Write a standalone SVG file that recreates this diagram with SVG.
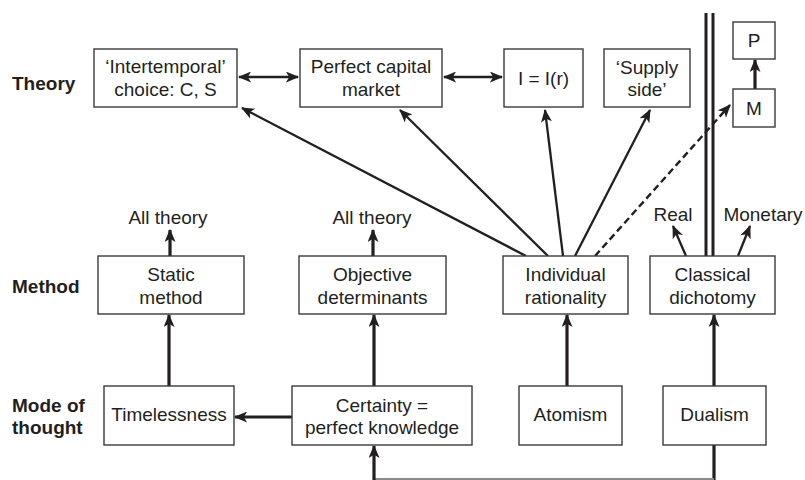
<svg xmlns="http://www.w3.org/2000/svg" width="805" height="480" viewBox="0 0 805 480">
<defs>
<marker id="ah" viewBox="0 0 12 10" refX="11" refY="5" markerWidth="14" markerHeight="11" markerUnits="userSpaceOnUse" orient="auto-start-reverse">
<path d="M0,0 L12,5 L0,10 L3,5 z" fill="#231f20"/>
</marker>
<marker id="ahs" viewBox="0 0 12 10" refX="11" refY="5" markerWidth="15" markerHeight="11" markerUnits="userSpaceOnUse" orient="auto-start-reverse">
<path d="M0,0 L12,5 L0,10 L3,5 z" fill="#231f20"/>
</marker>
</defs>
<style>
text{font-family:"Liberation Sans",Arial,sans-serif;font-size:19px;fill:#231f20;text-anchor:middle}
.lbl{font-weight:bold;text-anchor:start}
rect{fill:#fff;stroke:#3a3a3a;stroke-width:1.4}
.thick{stroke:#231f20;stroke-width:3.2;fill:none}
.thin{stroke:#231f20;stroke-width:2.3;fill:none}
.dash{stroke:#231f20;stroke-width:2.4;fill:none;stroke-dasharray:7 4}
</style>
<rect x="0" y="0" width="805" height="480" style="fill:#fff;stroke:none"/>

<g id="row-labels">
<text class="lbl" x="12" y="90">Theory</text>
<text class="lbl" x="12" y="293">Method</text>
<text class="lbl" x="12" y="412">Mode of</text>
<text class="lbl" x="12" y="434">thought</text>
</g>

<g id="connectors">
<line class="thin" x1="239" y1="77" x2="298" y2="77" marker-start="url(#ah)" marker-end="url(#ah)"/>
<line class="thin" x1="444" y1="77" x2="502" y2="77" marker-start="url(#ah)" marker-end="url(#ah)"/>
<line class="thin" x1="526" y1="256" x2="242" y2="108" marker-end="url(#ahs)"/>
<line class="thin" x1="548" y1="256" x2="400" y2="110" marker-end="url(#ahs)"/>
<line class="thin" x1="563" y1="256" x2="545" y2="110" marker-end="url(#ahs)"/>
<line class="thin" x1="575" y1="256" x2="650" y2="110" marker-end="url(#ahs)"/>
<line x1="706" y1="13" x2="706" y2="256" stroke="#231f20" stroke-width="3"/>
<line x1="713" y1="13" x2="713" y2="256" stroke="#231f20" stroke-width="3"/>
<line class="dash" x1="595" y1="256" x2="730" y2="105" marker-end="url(#ahs)"/>
<line class="thick" x1="755" y1="89" x2="755" y2="60" marker-end="url(#ah)"/>
<line class="thick" x1="170" y1="256" x2="170" y2="230" marker-end="url(#ah)"/>
<line class="thick" x1="373" y1="256" x2="373" y2="230" marker-end="url(#ah)"/>
<line class="thin" x1="686" y1="256" x2="673" y2="226" marker-end="url(#ah)"/>
<line class="thin" x1="738" y1="256" x2="750" y2="226" marker-end="url(#ah)"/>
<line class="thick" x1="169" y1="386" x2="169" y2="315" marker-end="url(#ah)"/>
<line class="thick" x1="374" y1="386" x2="374" y2="315" marker-end="url(#ah)"/>
<line class="thick" x1="567" y1="386" x2="567" y2="315" marker-end="url(#ah)"/>
<line class="thick" x1="714" y1="386" x2="714" y2="315" marker-end="url(#ah)"/>
<line class="thick" x1="292" y1="417" x2="235" y2="417" marker-end="url(#ah)"/>
<line class="thick" x1="714" y1="445" x2="714" y2="480"/>
<line x1="374" y1="479" x2="714" y2="479" stroke="#8a8a8a" stroke-width="2"/>
<line class="thick" x1="374" y1="480" x2="374" y2="446" marker-end="url(#ah)"/>
</g>

<g id="n-intertemporal"><rect x="94" y="49" width="143" height="58"/><text x="165.5" y="73">‘Intertemporal’</text><text x="165.5" y="96">choice: C, S</text></g>
<g id="n-capital"><rect x="300" y="49" width="142" height="58"/><text x="371" y="73">Perfect capital</text><text x="371" y="96">market</text></g>
<g id="n-invest"><rect x="504" y="49" width="79" height="58"/><text x="543.5" y="85">I = I(r)</text></g>
<g id="n-supply"><rect x="604" y="49" width="86" height="58"/><text x="647" y="74">‘Supply</text><text x="647" y="96">side’</text></g>
<g id="n-p"><rect x="733" y="22" width="42" height="37"/><text x="754" y="47">P</text></g>
<g id="n-m"><rect x="733" y="89" width="42" height="38"/><text x="754" y="115">M</text></g>

<g id="n-alltheory1"><text x="168" y="224">All theory</text></g>
<g id="n-alltheory2"><text x="372" y="224">All theory</text></g>
<g id="n-real"><text x="673" y="221">Real</text></g>
<g id="n-monetary"><text x="763" y="221">Monetary</text></g>

<g id="n-static"><rect x="98" y="256" width="146" height="58"/><text x="171" y="281">Static</text><text x="171" y="304">method</text></g>
<g id="n-objective"><rect x="299" y="256" width="147" height="58"/><text x="372.5" y="281">Objective</text><text x="372.5" y="304">determinants</text></g>
<g id="n-individual"><rect x="503" y="256" width="125" height="58"/><text x="565.5" y="281">Individual</text><text x="565.5" y="304">rationality</text></g>
<g id="n-classical"><rect x="650" y="256" width="125" height="58"/><text x="712.5" y="281">Classical</text><text x="712.5" y="304">dichotomy</text></g>

<g id="n-timelessness"><rect x="104" y="386" width="130" height="59"/><text x="169" y="421">Timelessness</text></g>
<g id="n-certainty"><rect x="292" y="386" width="180" height="59"/><text x="382" y="412">Certainty =</text><text x="382" y="434">perfect knowledge</text></g>
<g id="n-atomism"><rect x="519" y="386" width="103" height="59"/><text x="570.5" y="421">Atomism</text></g>
<g id="n-dualism"><rect x="663" y="386" width="103" height="59"/><text x="714.5" y="421">Dualism</text></g>
</svg>
